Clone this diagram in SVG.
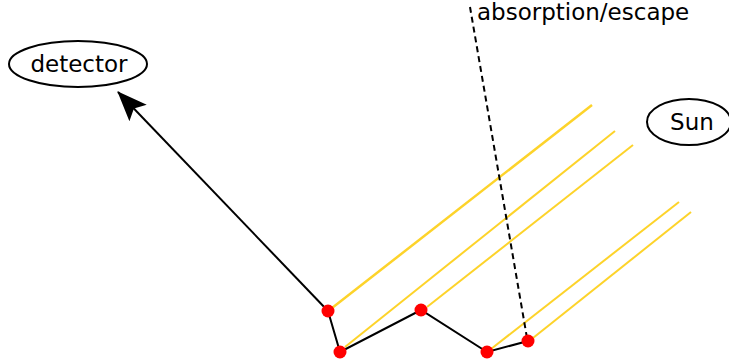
<svg xmlns="http://www.w3.org/2000/svg" width="729" height="362" viewBox="0 0 729 362">
<style>
text{font-family:"DejaVu Sans",sans-serif;font-size:23px;fill:#000}
.node ellipse{fill:#fff;stroke:#000;stroke-width:2}
.ray{stroke:#fdd32a;stroke-width:2;fill:none}
.dot{fill:#f00}
</style>
<defs>
<marker id="big" viewBox="0 0 30 24" refX="29" refY="12" markerWidth="30" markerHeight="24" markerUnits="userSpaceOnUse" orient="auto">
<path d="M0,0 L30,12 L0,24 L6,12 z" fill="#000"/>
</marker>
</defs>
<g id="connectors">
<line class="ray" x1="332" y1="308" x2="592" y2="105" style="stroke-width:2.5"/>
<line class="ray" x1="345" y1="347" x2="615" y2="131"/>
<line class="ray" x1="427" y1="307" x2="633" y2="145"/>
<line class="ray" x1="491" y1="349" x2="679" y2="202"/>
<line class="ray" x1="533" y1="338" x2="691" y2="212"/>
<polyline points="328,311 340,352 421,310 487,352 528,341" fill="none" stroke="#000" stroke-width="2"/>
<line x1="328" y1="311" x2="118" y2="92" stroke="#000" stroke-width="2" marker-end="url(#big)"/>
<line x1="527" y1="338" x2="470" y2="7" stroke="#000" stroke-width="2" stroke-dasharray="6,4"/>
</g>
<g id="points">
<circle class="dot" cx="328" cy="311" r="6.5"/>
<circle class="dot" cx="340" cy="352" r="6.5"/>
<circle class="dot" cx="421" cy="310" r="6.5"/>
<circle class="dot" cx="487" cy="352" r="6.5"/>
<circle class="dot" cx="528" cy="341" r="6.5"/>
</g>
<g id="detector" class="node">
<ellipse cx="78" cy="64" rx="69" ry="23"/>
<text x="79" y="72" text-anchor="middle">detector</text>
</g>
<g id="sun" class="node">
<ellipse cx="689" cy="122" rx="42" ry="23"/>
<text x="692" y="130" text-anchor="middle">Sun</text>
</g>
<g id="absorption">
<text x="477" y="20">absorption/escape</text>
</g>
</svg>
